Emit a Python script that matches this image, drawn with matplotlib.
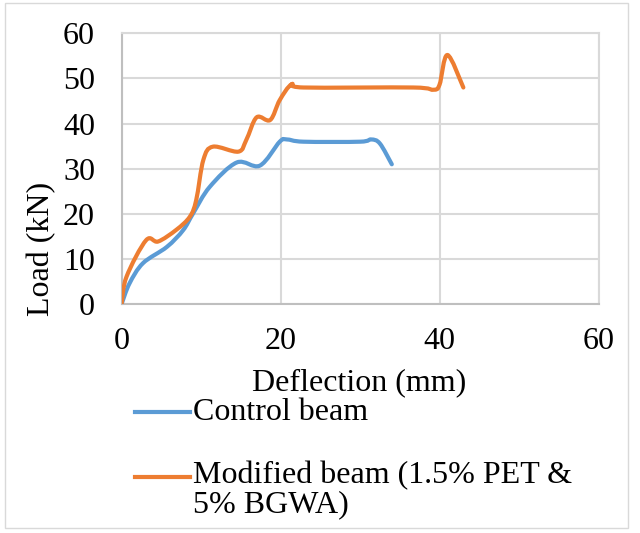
import matplotlib
matplotlib.use("Agg")
import matplotlib.pyplot as plt
import numpy as np
from matplotlib.path import Path
from matplotlib.patches import PathPatch, Rectangle
from matplotlib.lines import Line2D

plt.rcParams['font.family'] = ['Liberation Serif', 'DejaVu Serif']

control_x = [0, 1.0, 2.7, 5.7, 7.75, 9.0, 11.1, 14.5, 17.4, 19.9, 20.8, 22.9, 30.0, 31.4, 32.5, 34.0]
control_y = [0, 4.6, 9.1, 12.7, 16.4, 20.1, 26.0, 31.4, 30.7, 36.0, 36.5, 36.0, 36.0, 36.5, 35.6, 31.0]

modified_x = [0, 0.63, 3.1, 4.6, 6.9, 8.6, 9.4, 10.3, 11.5, 14.7, 15.7, 17.0, 18.7, 19.9, 21.4, 22.9, 36.7, 39.2, 40.0, 41.0, 43.0]
modified_y = [0, 6.1, 14.2, 13.9, 16.5, 19.4, 23.1, 32.0, 34.9, 33.8, 36.4, 41.4, 40.8, 45.2, 48.7, 48.0, 48.0, 47.5, 48.6, 55.2, 48.0]

labels = ["Control beam", "Modified beam (1.5% PET &\n5% BGWA)"]
colors = ["#5B9BD5", "#ED7D31"]
xticks = [0, 20, 40, 60]
yticks = [0, 10, 20, 30, 40, 50, 60]

W, H = 640, 533
FS = 23
fig = plt.figure(figsize=(W / 100, H / 100), dpi=100)

def fx(px):
    return px / W

def fy(py):
    return 1 - py / H

ax = fig.add_axes([fx(121.5), fy(304.3), fx(598.5) - fx(121.5), fy(33.3) - fy(304.3)])
ax.set_xlim(0, 60)
ax.set_ylim(0, 60)
ax.set_xticks(xticks)
ax.set_yticks(yticks)
ax.tick_params(length=0, labelsize=FS)
ax.tick_params(axis='y', pad=19)
ax.tick_params(axis='x', pad=16)
ax.grid(True, color="#D9D9D9", linewidth=1.5)
ax.set_axisbelow(True)
for s in ['top', 'right']:
    ax.spines[s].set_color("#D9D9D9")
    ax.spines[s].set_linewidth(1.5)
for s in ['left', 'bottom']:
    ax.spines[s].set_color("#BFBFBF")
    ax.spines[s].set_linewidth(1.5)


def smooth_path(xs, ys):
    pts = np.column_stack([xs, ys]).astype(float)
    n = len(pts)
    verts = [pts[0]]
    codes = [Path.MOVETO]
    for i in range(n - 1):
        p0 = pts[i - 1] if i > 0 else pts[i]
        p1 = pts[i]
        p2 = pts[i + 1]
        p3 = pts[i + 2] if i + 2 < n else pts[i + 1]
        c1 = p1 + (p2 - p0) / 6.0
        c2 = p2 - (p3 - p1) / 6.0
        verts += [c1, c2, p2]
        codes += [Path.CURVE4] * 3
    return Path(verts, codes)


for xs, ys, c in [(control_x, control_y, colors[0]), (modified_x, modified_y, colors[1])]:
    patch = PathPatch(smooth_path(xs, ys), facecolor='none', edgecolor=c,
                      linewidth=3, capstyle='round', joinstyle='round', zorder=3)
    ax.add_patch(patch)

fig.text(fx(42), fy(249), "Load (kN)", rotation=90, ha='center', va='center', fontsize=FS)
fig.text(fx(359), fy(383), "Deflection (mm)", ha='center', va='center', fontsize=FS)

# legend
fig.add_artist(Line2D([fx(135), fx(190)], [fy(412), fy(412)], color=colors[0], linewidth=3))
fig.text(fx(193), fy(412), labels[0], ha='left', va='center', fontsize=FS)
fig.add_artist(Line2D([fx(135), fx(190)], [fy(477), fy(477)], color=colors[1], linewidth=3))
fig.text(fx(193), fy(461), labels[1], ha='left', va='top', fontsize=FS, linespacing=1.0)

fig.add_artist(Rectangle((fx(5), fy(528)), fx(628) - fx(5), fy(3) - fy(528),
                         transform=fig.transFigure, fill=False, edgecolor="#D9D9D9", linewidth=1))

fig.savefig("out.png", dpi=100)
